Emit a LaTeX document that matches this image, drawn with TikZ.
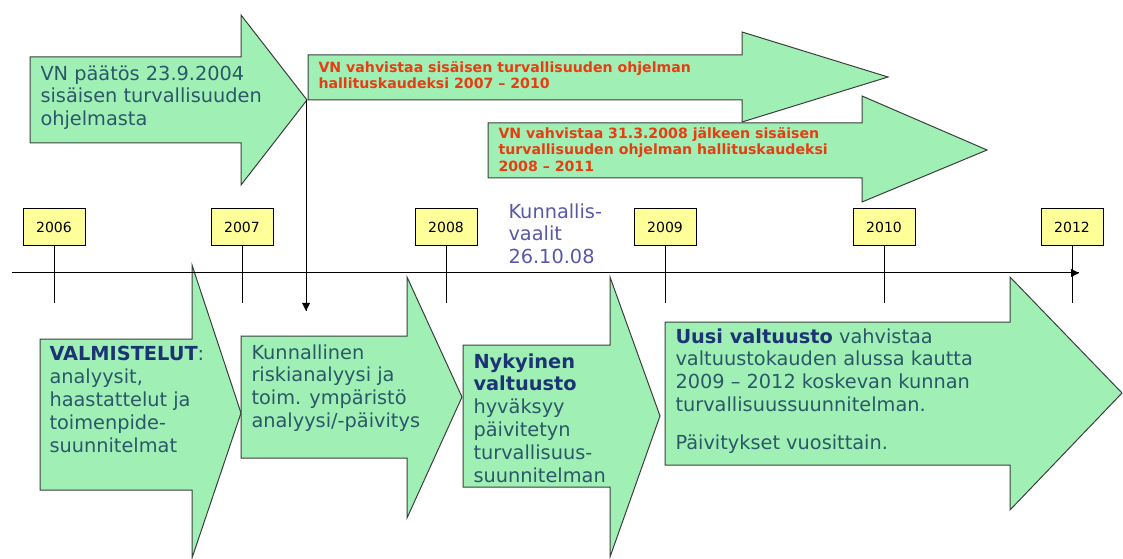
\documentclass[tikz,border=0pt]{standalone}
\usepackage{fontspec}
\setmainfont{DejaVu Sans}

\definecolor{arrowgreen}{RGB}{160,240,182}
\definecolor{arrowline}{RGB}{58,64,58}
\definecolor{yearyellow}{RGB}{255,255,153}
\definecolor{bodytext}{RGB}{42,88,104}
\definecolor{boldtext}{RGB}{28,52,116}
\definecolor{redtext}{RGB}{230,62,18}
\definecolor{votetext}{RGB}{88,88,168}

\tikzset{every picture/.style={line width=0.75pt},
  blockarrow/.style={draw=arrowline, fill=arrowgreen},
  yearbox/.style={draw=black, fill=yearyellow, minimum width=46.5pt, minimum height=27.75pt, inner sep=0pt, font=\fontsize{10.5}{12}\selectfont},
  bigtext/.style={anchor=north west, align=left, inner sep=0pt, text=bodytext, font=\fontsize{14.5}{17.1}\selectfont},
  redlabel/.style={anchor=north west, align=left, inner sep=0pt, text=redtext, font=\fontsize{10.6}{12.3}\selectfont\bfseries}
}
\newcommand{\boldword}[1]{\textcolor{boldtext}{\textbf{#1}}}

\begin{document}
\begin{tikzpicture}[x=0.75pt,y=0.75pt,yscale=-1,xscale=1]
  \useasboundingbox (0,0) rectangle (1123,559); %same size as the reference

  %top arrows
  \draw [blockarrow] (30,57) -- (241,57) -- (241,15) -- (307,100) -- (241,185) -- (241,143) -- (30,143) -- cycle ;
  \draw [blockarrow] (308,55) -- (742,55) -- (742,32) -- (888,77) -- (742,122) -- (742,100) -- (308,100) -- cycle ;
  \draw [blockarrow] (488,123) -- (862,123) -- (862,96) -- (987,150) -- (862,202) -- (862,178) -- (488,178) -- cycle ;

  \node [bigtext] (decisiontext) at (40,65) {VN päätös 23.9.2004\\sisäisen turvallisuuden\\ohjelmasta};
  \node [redlabel] (program0710) at (318,61) {VN vahvistaa sisäisen turvallisuuden ohjelman\\hallituskaudeksi 2007 – 2010};
  \node [redlabel] (program0811) at (498,127) {VN vahvistaa 31.3.2008 jälkeen sisäisen\\turvallisuuden ohjelman hallituskaudeksi\\2008 – 2011};

  %bottom arrows
  \draw [blockarrow] (40,339) -- (192,339) -- (192,265) -- (241,413) -- (192,558) -- (192,490) -- (40,490) -- cycle ;
  \draw [blockarrow] (241,336) -- (407,336) -- (407,277) -- (462,397) -- (407,518) -- (407,458) -- (241,458) -- cycle ;
  \draw [blockarrow] (463,345) -- (610,345) -- (610,277) -- (660,416) -- (610,557) -- (610,487) -- (463,487) -- cycle ;
  \draw [blockarrow] (665,322) -- (1010,322) -- (1010,277) -- (1122,393) -- (1010,510) -- (1010,465) -- (665,465) -- cycle ;

  \node [bigtext] (preparation) at (49,346) {\boldword{VALMISTELUT}:\\analyysit,\\haastattelut ja\\toimenpide-\\suunnitelmat};
  \node [bigtext] (riskanalysis) at (251,344) {Kunnallinen\\riskianalyysi ja\\toim. ympäristö\\analyysi/-päivitys};
  \node [bigtext] (oldcouncil) at (473,353) {\boldword{Nykyinen}\\\boldword{valtuusto}\\hyväksyy\\päivitetyn\\turvallisuus-\\suunnitelman};
  \node [bigtext] (newcouncil) at (675,328) {\boldword{Uusi valtuusto} vahvistaa\\valtuustokauden alussa kautta\\2009 – 2012 koskevan kunnan\\turvallisuussuunnitelman.\\[11pt]Päivitykset vuosittain.};

  \node [bigtext, text=votetext] (elections) at (508,203) {Kunnallis-\\vaalit\\26.10.08};

  %years
  \node [yearbox] (y2006) at (54,227.5) {2006};
  \node [yearbox] (y2007) at (242,227.5) {2007};
  \node [yearbox] (y2008) at (446,227.5) {2008};
  \node [yearbox] (y2009) at (665,227.5) {2009};
  \node [yearbox] (y2010) at (884,227.5) {2010};
  \node [yearbox] (y2012) at (1072,227.5) {2012};
  \draw (y2006.south) -- (54,303) ;
  \draw (y2007.south) -- (242,303) ;
  \draw (y2008.south) -- (446,303) ;
  \draw (y2009.south) -- (665,303) ;
  \draw (y2010.south) -- (884,303) ;
  \draw (y2012.south) -- (1072,303) ;

  %time axis
  \coordinate (axisstart) at (12,273);
  \coordinate (axisend) at (1079,273);
  \draw (axisstart) -- (axisend) ;
  \draw [shift={(1079,273)}, rotate = 180] [fill=black][draw opacity=0] (8,-4) -- (0,0) -- (8,4) -- cycle ;

  %decision line
  \coordinate (decision) at (306,100);
  \coordinate (decisionend) at (306,311);
  \draw (decision) -- (decisionend) ;
  \draw [shift={(306,311)}, rotate = 270] [fill=black][draw opacity=0] (8,-4) -- (0,0) -- (8,4) -- cycle ;
\end{tikzpicture}
\end{document}
